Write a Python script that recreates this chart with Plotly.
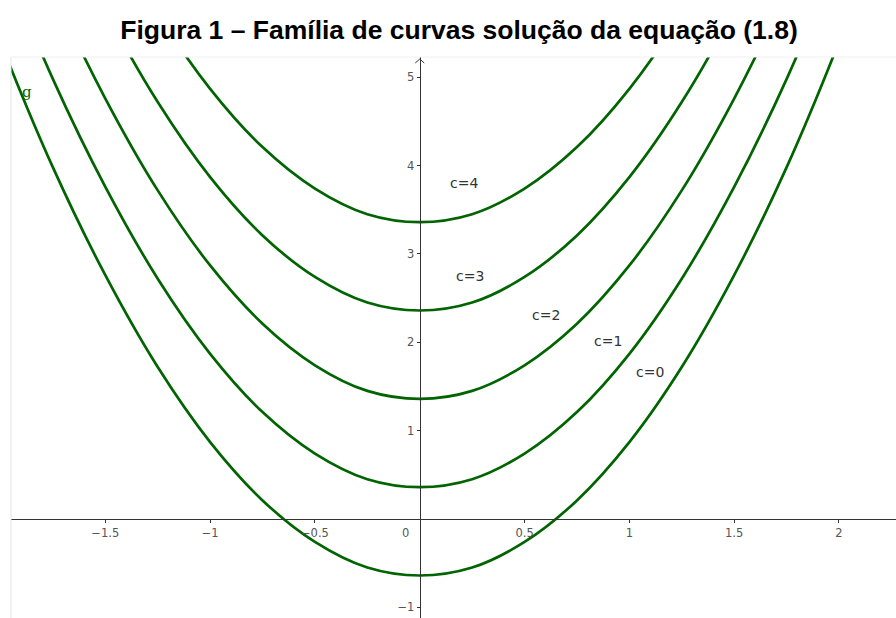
import plotly.graph_objects as go

# Base solution curve (c = 0), sampled along x
x_vals = [-2.25, -2.0, -1.75, -1.5, -1.25, -1.0, -0.75, -0.5, -0.25, 0.0,
          0.25, 0.5, 0.75, 1.0, 1.25, 1.5, 1.75, 2.0, 2.25]
base_y = [7.00, 5.40, 3.98, 2.76, 1.72, 0.87, 0.21, -0.26, -0.55, -0.64,
          -0.55, -0.26, 0.21, 0.87, 1.72, 2.76, 3.98, 5.40, 7.00]

# Constants of the family
c_values = [0, 1, 2, 3, 4]
c_labels = ["c=0", "c=1", "c=2", "c=3", "c=4"]
label_x = [1.10, 0.90, 0.60, 0.24, 0.21]
label_y = [1.66, 2.02, 2.31, 2.75, 3.80]

x_ticks = [-1.5, -1, -0.5, 0.5, 1, 1.5, 2]
y_ticks = [-1, 1, 2, 3, 4, 5]

x_range = [-1.950, 2.272]
y_range = [-1.121, 5.230]

curve_color = "#006400"
axis_color = "#333333"

fig = go.Figure()
for c in c_values:
    fig.add_trace(go.Scatter(
        x=x_vals,
        y=[v + c for v in base_y],
        mode="lines",
        line=dict(color=curve_color, width=2.7, shape="spline"),
        showlegend=False,
        hoverinfo="skip",
    ))

annotations = []
for txt, lx, ly in zip(c_labels, label_x, label_y):
    annotations.append(dict(
        x=lx, y=ly, text=txt, showarrow=False,
        font=dict(family="DejaVu Sans", size=14, color="#333333"),
    ))

# function name
annotations.append(dict(
    x=-1.873, y=4.83, text="g", showarrow=False,
    font=dict(family="DejaVu Serif", size=15, color=curve_color),
))
# origin label
annotations.append(dict(
    x=0, y=0, text="0", showarrow=False, xanchor="right", yanchor="top",
    xshift=-9, yshift=-5,
    font=dict(family="DejaVu Sans", size=11.5, color="#555555"),
))

x_pos = (0 - y_range[0]) / (y_range[1] - y_range[0])
y_pos = (0 - x_range[0]) / (x_range[1] - x_range[0])

shapes = [
    # view border (left and top)
    dict(type="line", xref="paper", yref="paper", x0=0, x1=0, y0=0, y1=1,
         line=dict(color="#e4e4e4", width=1)),
    dict(type="line", xref="paper", yref="paper", x0=0, x1=1, y0=1, y1=1,
         line=dict(color="#f0f0f0", width=1)),
    # arrow head on the y axis
    dict(type="path", xref="x", yref="y", xsizemode="pixel", ysizemode="pixel",
         xanchor=0, yanchor=y_range[1], path="M-4.5,-6 L0,-2 L4.5,-6",
         line=dict(color=axis_color, width=1)),
]

fig.update_layout(
    width=896, height=618,
    margin=dict(l=11, r=0, t=57, b=0),
    paper_bgcolor="white", plot_bgcolor="white",
    title=dict(
        text="<b>Figura 1 – Família de curvas solução da equação (1.8)</b>",
        x=459 / 896, xanchor="center", xref="container",
        y=1 - 30 / 618, yanchor="middle", yref="container",
        font=dict(family="Liberation Sans, Arial", size=26.5, color="#000000"),
    ),
    xaxis=dict(
        range=x_range, anchor="free", position=x_pos,
        showgrid=False, zeroline=False, showline=True, linecolor=axis_color, linewidth=1,
        ticks="outside", ticklen=3, tickcolor=axis_color, tickwidth=1,
        tickvals=x_ticks,
        tickfont=dict(family="DejaVu Sans", size=11.5, color="#555555"),
    ),
    yaxis=dict(
        range=y_range, anchor="free", position=y_pos,
        showgrid=False, zeroline=False, showline=True, linecolor=axis_color, linewidth=1,
        ticks="outside", ticklen=3, tickcolor=axis_color, tickwidth=1,
        tickvals=y_ticks,
        tickfont=dict(family="DejaVu Sans", size=11.5, color="#555555"),
    ),
    annotations=annotations,
    shapes=shapes,
)

fig.write_html("out.html")
